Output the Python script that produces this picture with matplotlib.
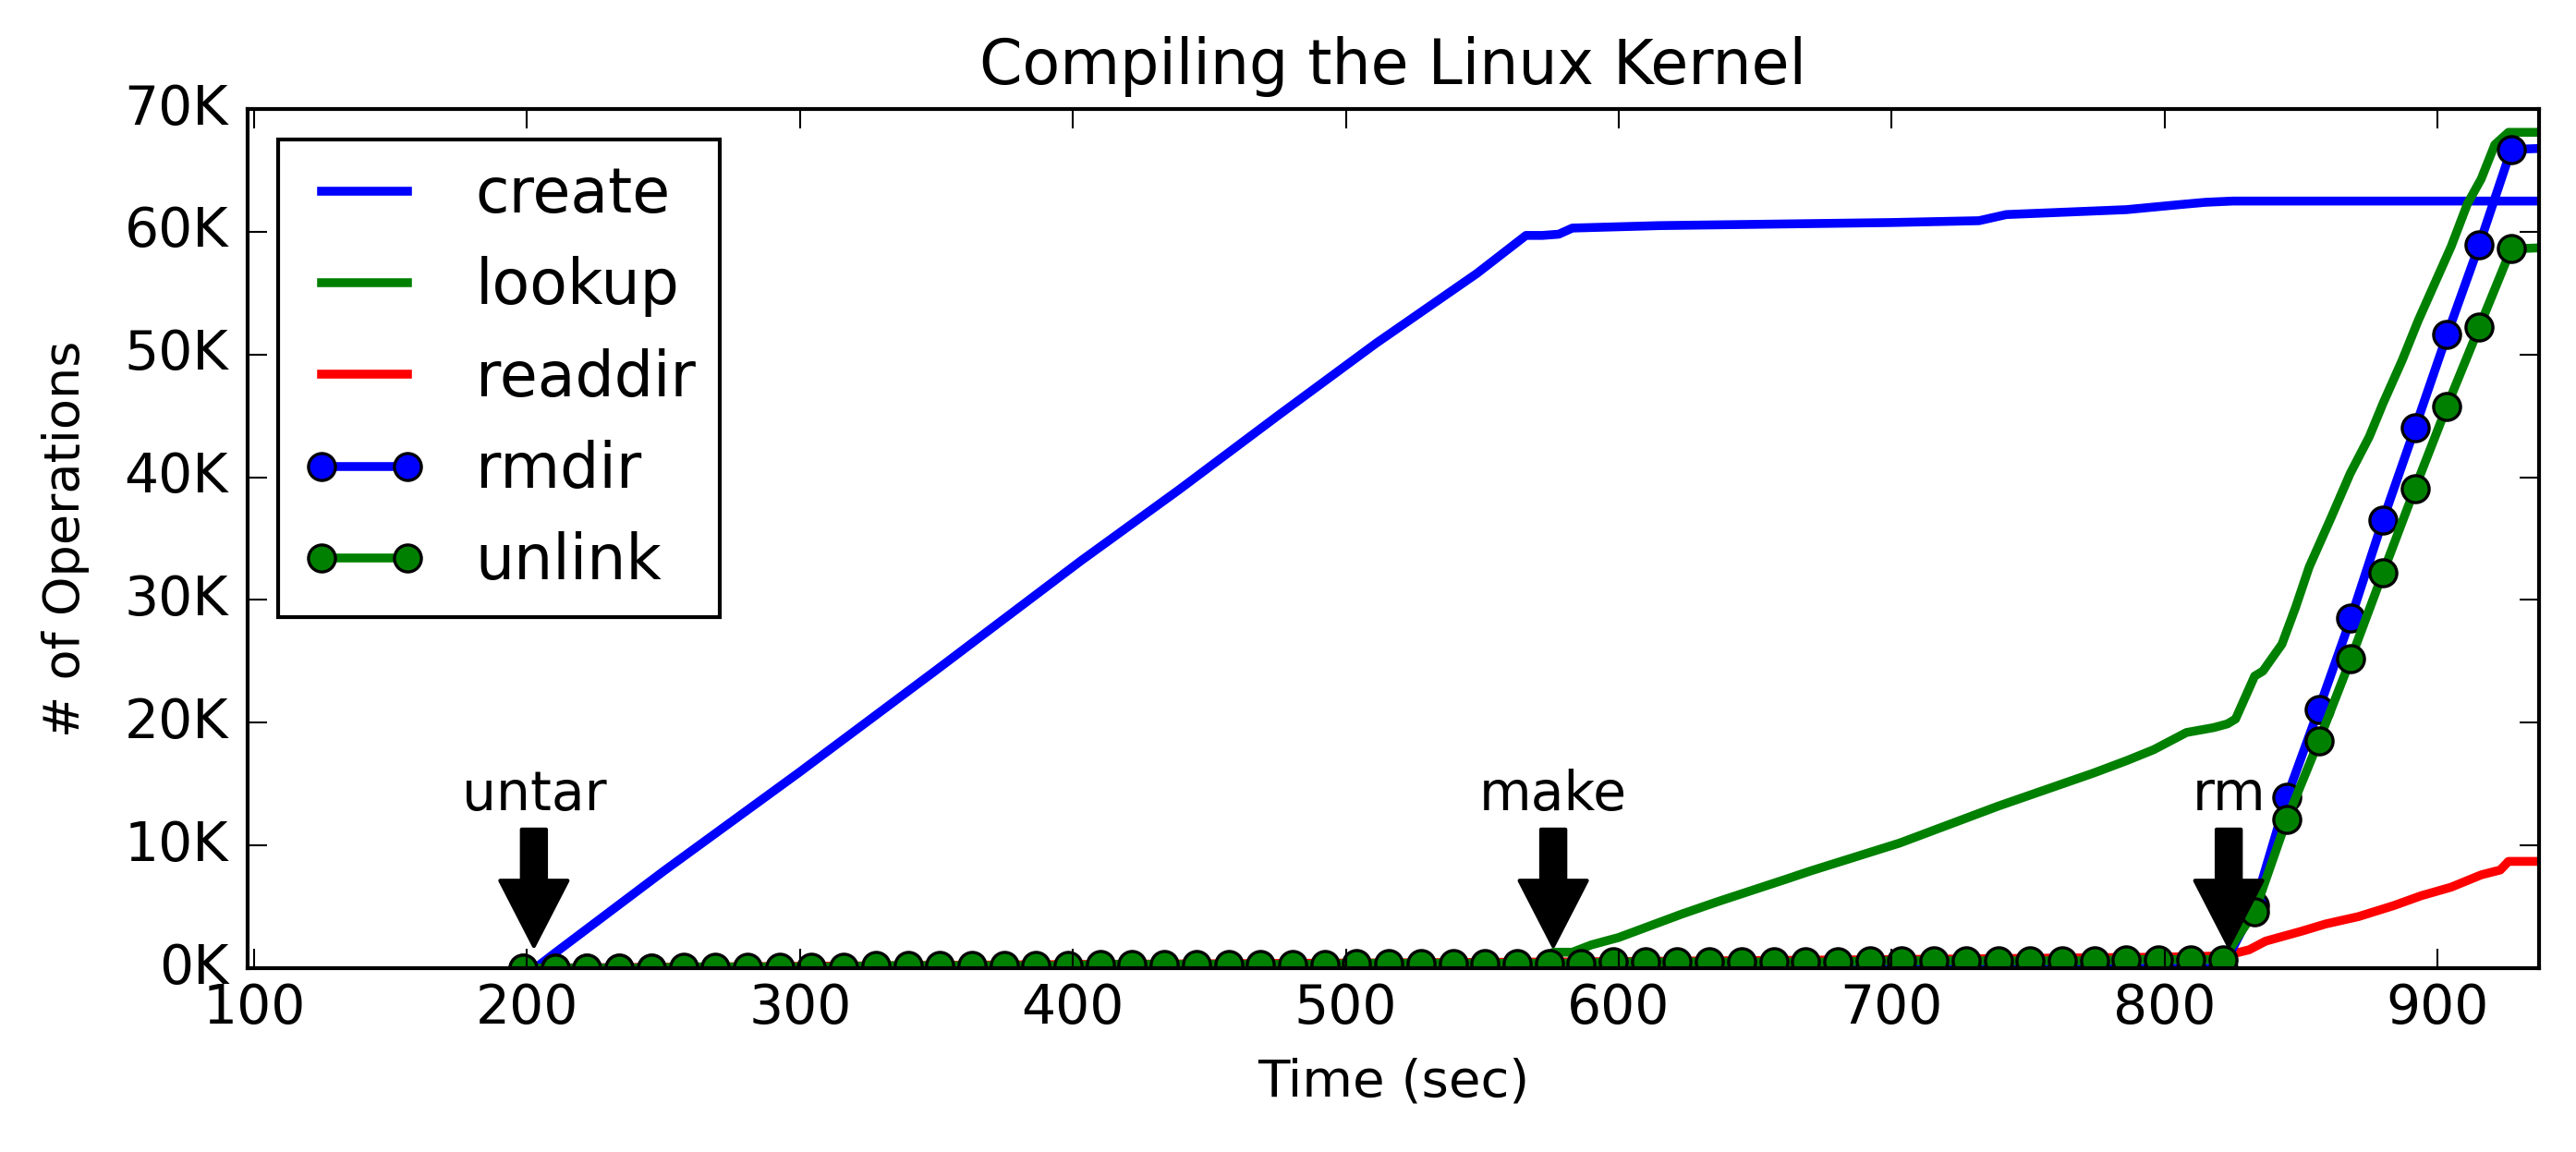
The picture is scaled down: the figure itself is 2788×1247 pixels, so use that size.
import matplotlib
matplotlib.use("Agg")
import matplotlib.pyplot as plt

plt.style.use("classic")
plt.rcParams["font.family"] = ["DejaVu Sans"]

# ---------------- data ----------------
create_t = [203, 210, 250, 300, 350, 403, 439, 475, 511, 548, 566, 572, 578,
            583, 615, 700, 732, 742, 786, 805, 815, 825, 939]
create_v = [0, 1200, 7900, 16000, 24300, 33200, 39000, 45000, 50900, 56600,
            59700, 59700, 59800, 60300, 60500, 60750, 60900, 61400, 61800,
            62200, 62400, 62500, 62500]

lookup_t = [200, 575, 576, 583, 590, 600, 623, 636, 662, 670, 703, 739, 774,
            786, 796, 808, 818, 823, 826, 833, 836, 843, 848, 853, 855, 861,
            868, 875, 880, 887, 893, 899, 905, 911, 916, 921, 926, 939]
lookup_v = [0, 0, 1300, 1300, 1900, 2500, 4400, 5400, 7300, 7900, 10200, 13200,
            15900, 16900, 17800, 19200, 19600, 19900, 20300, 23800, 24200,
            26400, 29400, 32700, 33700, 36700, 40300, 43300, 46000, 49500,
            52800, 55800, 58800, 62300, 64300, 67100, 68100, 68100]

readdir_t = [200, 400, 575, 700, 800, 822, 831, 837, 850, 859, 871, 884, 894,
             905, 916, 923, 926, 939]
readdir_v = [0, 300, 500, 700, 900, 1000, 1500, 2200, 3000, 3600, 4200, 5100,
             5900, 6600, 7600, 8000, 8700, 8700]

# sample times shared by rmdir / unlink (one marker per sample, last one unmarked)
rm_t = [198.5, 210.25, 222.0, 233.75, 245.5, 257.25, 269.0, 280.75, 292.5,
        304.25, 316.0, 327.75, 339.5, 351.25, 363.0, 374.75, 386.5, 398.25,
        410.0, 421.75, 433.5, 445.25, 457.0, 468.75, 480.5, 492.25, 504.0,
        515.75, 527.5, 539.25, 551.0, 562.75, 574.5, 586.25, 598.0, 609.75,
        621.5, 633.25, 645.0, 656.75, 668.5, 680.25, 692.0, 703.75, 715.5,
        727.25, 739.0, 750.75, 762.5, 774.25, 786.0, 797.75, 809.5, 821.25,
        833.0, 844.75, 856.5, 868.25, 880.0, 891.75, 903.5, 915.25, 927.0,
        939.0]
rmdir_v = [0] * 54 + [5100, 13900, 21100, 28500, 36500, 44000, 51600, 58900,
                      66700, 66800]
unlink_v = ([0] * 5 + [100] * 6 + [200] * 7 + [300] * 8 + [400] * 8 +
            [500] * 8 + [600] * 8 + [700] * 4 +
            [4600, 12100, 18500, 25200, 32200, 39100, 45800, 52200, 58600,
             58700])

events = ["untar", "make", "rm"]
event_t = [202.5, 576, 823.5]

yticks = [0, 10000, 20000, 30000, 40000, 50000, 60000, 70000]
ytick_labels = ["0K", "10K", "20K", "30K", "40K", "50K", "60K", "70K"]
xticks = [100, 200, 300, 400, 500, 600, 700, 800, 900]

# ---------------- figure ----------------
fig = plt.figure(figsize=(2788 / 300, 1247 / 300), dpi=300, facecolor="white")
ax = fig.add_axes([268 / 2788, 1 - 1048 / 1247, 2480 / 2788, 930 / 1247])
ax.set_facecolor("white")

lw = 2.3
ms = 7
mew = 0.8
ax.plot(create_t, create_v, color="b", lw=lw, label="create")
ax.plot(lookup_t, lookup_v, color="g", lw=lw, label="lookup")
ax.plot(readdir_t, readdir_v, color="r", lw=lw, label="readdir")
ax.plot(rm_t, rmdir_v, color="b", lw=lw, marker="o", ms=ms, mew=mew,
        mec="k", markevery=slice(0, -1), label="rmdir")
ax.plot(rm_t, unlink_v, color="g", lw=lw, marker="o", ms=ms, mew=mew,
        mec="k", markevery=slice(0, -1), label="unlink")

for name, t in zip(events, event_t):
    ax.annotate("", xy=(t, 1800), xytext=(t, 11300),
                arrowprops=dict(facecolor="black", edgecolor="black",
                                width=6.3, headwidth=17.5, headlength=17,
                                shrink=0.0, lw=1.0))
    ax.text(t, 12870, name, ha="center", va="baseline", fontsize=14)

ax.set_xlim(97.6, 937.2)
ax.set_ylim(0, 70000)
ax.set_xticks(xticks)
ax.set_xticklabels([str(v) for v in xticks])
ax.set_yticks(yticks)
ax.set_yticklabels(ytick_labels)
ax.tick_params(axis="both", which="major", direction="in", length=5,
               width=0.5, labelsize=14, top=True, right=True)
ax.tick_params(axis="x", pad=3.5)
ax.tick_params(axis="y", pad=5)
ax.tick_params(axis="both", which="minor", length=0)
for s in ax.spines.values():
    s.set_linewidth(1.0)

ax.set_title("Compiling the Linux Kernel", fontsize=16, pad=6.5)
ax.set_xlabel("Time (sec)", fontsize=13.5, labelpad=6)
ax.set_ylabel("# of Operations", fontsize=13, labelpad=9)

leg = ax.legend(loc="upper left", fontsize=16, numpoints=2, handlelength=2.0,
                handletextpad=0.8, labelspacing=0.5, borderpad=0.4,
                borderaxespad=0.5, fancybox=False, shadow=False)
leg.get_frame().set_linewidth(1.0)
leg.get_frame().set_edgecolor("black")

fig.savefig("out.png", dpi=300, facecolor="white")
